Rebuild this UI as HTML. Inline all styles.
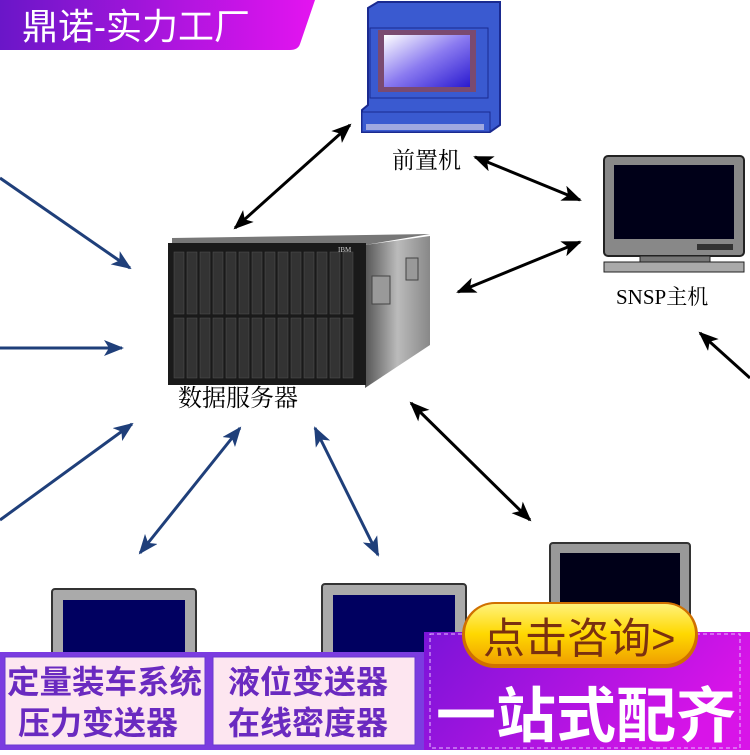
<!DOCTYPE html>
<html><head><meta charset="utf-8"><style>
body{margin:0;width:750px;height:750px;overflow:hidden;background:#fff;font-family:"Liberation Serif","Noto Serif CJK SC",serif}
</style></head><body>
<svg width="750" height="750" viewBox="0 0 750 750" xmlns="http://www.w3.org/2000/svg">
<defs>
<linearGradient id="bn" x1="0" x2="1"><stop offset="0" stop-color="#6a16c8"/><stop offset="1" stop-color="#e414f0"/></linearGradient>
<linearGradient id="rp" x1="0" x2="1" y1="0" y2="0.3"><stop offset="0" stop-color="#7a14d8"/><stop offset="1" stop-color="#d814e8"/></linearGradient>
<linearGradient id="yb" x1="0" x2="0" y1="0" y2="1"><stop offset="0" stop-color="#fff27a"/><stop offset="0.5" stop-color="#ffd800"/><stop offset="1" stop-color="#f0a000"/></linearGradient>
<linearGradient id="scr" x1="0" x2="1" y1="0" y2="1"><stop offset="0" stop-color="#ffffff"/><stop offset="0.5" stop-color="#8a7af0"/><stop offset="1" stop-color="#2a1ad0"/></linearGradient>
<linearGradient id="side" x1="0" x2="1"><stop offset="0" stop-color="#555"/><stop offset="0.5" stop-color="#bbb"/><stop offset="1" stop-color="#888"/></linearGradient>
<marker id="ab" markerWidth="20" markerHeight="16" refX="18" refY="8" orient="auto-start-reverse" markerUnits="userSpaceOnUse" viewBox="0 0 20 16"><path d="M0,0 L20,8 L0,16 L5,8z" fill="#000"/></marker>
<marker id="an" markerWidth="20" markerHeight="16" refX="18" refY="8" orient="auto-start-reverse" markerUnits="userSpaceOnUse" viewBox="0 0 20 16"><path d="M0,0 L20,8 L0,16 L5,8z" fill="#1f3f7a"/></marker>
</defs>
<path d="M0,0 H315 L300,44 Q298,50 290,50 H0z" fill="url(#bn)"/>
<text x="22" y="39" font-family="Liberation Sans,Noto Sans CJK SC,sans-serif" font-size="36" fill="#fff">鼎诺-实力工厂</text>

<path d="M368,8 L378,2 H500 V125 L490,132 H362 V110 L368,105z" fill="#3a5ad0" stroke="#1a2a90" stroke-width="2"/>
<rect x="370" y="28" width="118" height="70" fill="#3a5ad0" stroke="#1a2a90"/>
<rect x="378" y="30" width="98" height="62" fill="#7a4a70"/>
<rect x="384" y="35" width="86" height="52" fill="url(#scr)"/>
<rect x="362" y="112" width="128" height="20" fill="#3a5ad0" stroke="#1a2a90"/>
<rect x="366" y="124" width="118" height="6" fill="#a0a8e0"/>
<text x="392" y="168" font-size="23">前置机</text>

<rect x="604" y="156" width="140" height="100" rx="4" fill="#888" stroke="#222" stroke-width="2"/>
<rect x="614" y="165" width="120" height="74" fill="#000018"/>
<rect x="697" y="244" width="36" height="6" fill="#333"/>
<rect x="640" y="256" width="70" height="6" fill="#777" stroke="#222"/>
<rect x="604" y="262" width="140" height="10" fill="#aaa" stroke="#222"/>
<text x="616" y="304" font-size="21">SNSP主机</text>

<path d="M365,245 L430,236 V345 L365,388z" fill="url(#side)"/>
<rect x="372" y="276" width="18" height="28" fill="#999" stroke="#444"/>
<rect x="406" y="258" width="12" height="22" fill="#999" stroke="#444"/>
<path d="M172,238 L430,234 L365,245 H172z" fill="#777"/>
<rect x="168" y="243" width="198" height="142" fill="#1a1a1a"/>
<g fill="#333" stroke="#555" stroke-width="0.5">
<rect x="174" y="252" width="10" height="62"/><rect x="187" y="252" width="10" height="62"/><rect x="200" y="252" width="10" height="62"/><rect x="213" y="252" width="10" height="62"/><rect x="226" y="252" width="10" height="62"/><rect x="239" y="252" width="10" height="62"/><rect x="252" y="252" width="10" height="62"/><rect x="265" y="252" width="10" height="62"/><rect x="278" y="252" width="10" height="62"/><rect x="291" y="252" width="10" height="62"/><rect x="304" y="252" width="10" height="62"/><rect x="317" y="252" width="10" height="62"/><rect x="330" y="252" width="10" height="62"/><rect x="343" y="252" width="10" height="62"/>
<rect x="174" y="318" width="10" height="60"/><rect x="187" y="318" width="10" height="60"/><rect x="200" y="318" width="10" height="60"/><rect x="213" y="318" width="10" height="60"/><rect x="226" y="318" width="10" height="60"/><rect x="239" y="318" width="10" height="60"/><rect x="252" y="318" width="10" height="60"/><rect x="265" y="318" width="10" height="60"/><rect x="278" y="318" width="10" height="60"/><rect x="291" y="318" width="10" height="60"/><rect x="304" y="318" width="10" height="60"/><rect x="317" y="318" width="10" height="60"/><rect x="330" y="318" width="10" height="60"/><rect x="343" y="318" width="10" height="60"/>
</g>
<text x="338" y="252" font-size="7" fill="#ccc">IBM</text>
<text x="178" y="406" font-size="24">数据服务器</text>

<g stroke="#1f3f7a" stroke-width="3" fill="none">
<line x1="0" y1="178" x2="130" y2="268" marker-end="url(#an)"/>
<line x1="0" y1="348" x2="122" y2="348" marker-end="url(#an)"/>
<line x1="0" y1="520" x2="132" y2="424" marker-end="url(#an)"/>
<line x1="140" y1="553" x2="240" y2="428" marker-start="url(#an)" marker-end="url(#an)"/>
<line x1="315" y1="428" x2="378" y2="555" marker-start="url(#an)" marker-end="url(#an)"/>
</g>
<g stroke="#000" stroke-width="3" fill="none">
<line x1="235" y1="228" x2="350" y2="125" marker-start="url(#ab)" marker-end="url(#ab)"/>
<line x1="475" y1="157" x2="580" y2="200" marker-start="url(#ab)" marker-end="url(#ab)"/>
<line x1="458" y1="292" x2="580" y2="242" marker-start="url(#ab)" marker-end="url(#ab)"/>
<line x1="411" y1="403" x2="530" y2="520" marker-start="url(#ab)" marker-end="url(#ab)"/>
<line x1="750" y1="378" x2="700" y2="333" marker-end="url(#ab)"/>
</g>

<rect x="52" y="589" width="144" height="70" rx="3" fill="#aaa" stroke="#333" stroke-width="2"/>
<rect x="63" y="600" width="122" height="60" fill="#000060"/>
<rect x="322" y="584" width="144" height="75" rx="3" fill="#aaa" stroke="#333" stroke-width="2"/>
<rect x="333" y="595" width="122" height="65" fill="#000060"/>
<rect x="550" y="543" width="140" height="80" rx="3" fill="#999" stroke="#333" stroke-width="2"/>
<rect x="560" y="553" width="120" height="65" fill="#000018"/>

<rect x="0" y="652" width="750" height="98" fill="#7b3ce0"/>
<rect x="5" y="657" width="200" height="88" fill="#fde6f0" stroke="#6a3ad0"/>
<rect x="213" y="657" width="202" height="88" fill="#fde6f0" stroke="#6a3ad0"/>
<g font-family="Liberation Sans,Noto Sans CJK SC,sans-serif" font-size="32" fill="#6a2ac0" font-weight="bold">
<text x="7" y="693" textLength="195" lengthAdjust="spacingAndGlyphs">定量装车系统</text>
<text x="18" y="734">压力变送器</text>
<text x="228" y="693">液位变送器</text>
<text x="228" y="734">在线密度器</text>
</g>
<rect x="424" y="632" width="326" height="118" fill="url(#rp)"/>
<rect x="430" y="634" width="310" height="114" fill="none" stroke="#e6c0ff" stroke-dasharray="4,3"/>
<rect x="462" y="602" width="236" height="66" rx="33" fill="#d07000"/>
<rect x="465" y="604" width="230" height="60" rx="30" fill="url(#yb)"/>
<text x="483" y="653" font-family="Liberation Sans,Noto Sans CJK SC,sans-serif" font-size="42" fill="#7a3010">点击咨询&gt;</text>
<text x="436" y="737" font-family="Liberation Sans,Noto Sans CJK SC,sans-serif" font-size="60" font-weight="bold" fill="#fff">一站式配齐</text>
</svg>
</body></html>
